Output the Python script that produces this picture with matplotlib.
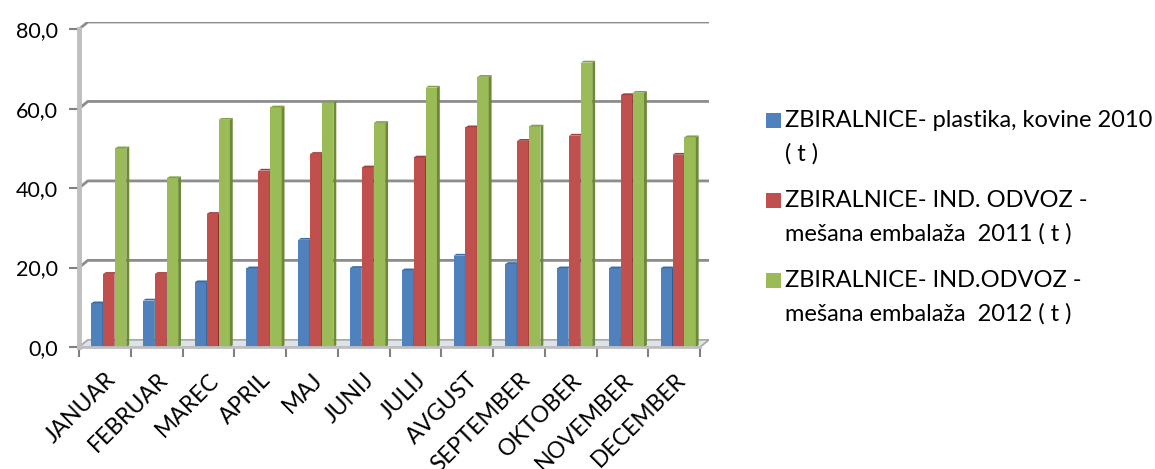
import matplotlib
matplotlib.use("Agg")
from matplotlib import pyplot as plt
from matplotlib.patches import Polygon, Rectangle
import numpy as np

plt.rcParams['font.family'] = ['Lato', 'DejaVu Sans']

# data (t)
months = ['JANUAR', 'FEBRUAR', 'MAREC', 'APRIL', 'MAJ', 'JUNIJ', 'JULIJ',
          'AVGUST', 'SEPTEMBER', 'OKTOBER', 'NOVEMBER', 'DECEMBER']
plast_2010 = [11.0, 11.7, 16.3, 19.8, 27.0, 19.9, 19.3, 23.0, 20.9, 19.8, 19.8, 19.8]
meš_2011 = [18.4, 18.4, 33.5, 44.4, 48.6, 45.2, 47.7, 55.3, 51.9, 53.2, 63.4, 48.4]
meš_2012 = [50.0, 42.5, 57.2, 60.3, 61.5, 56.4, 65.3, 68.0, 55.5, 71.6, 64.0, 52.8]

labels = ['ZBIRALNICE- plastika, kovine 2010\n( t )',
          'ZBIRALNICE- IND. ODVOZ -\nmešana embalaža  2011 ( t )',
          'ZBIRALNICE- IND.ODVOZ -\nmešana embalaža  2012 ( t )']
colors = ['#4F81BD', '#C0504D', '#9BBB59']
side_colors = ['#2E5C8F', '#8A302D', '#6B8A36']
top_colors = ['#3A6BA6', '#A33F3C', '#82A246']
series = [plast_2010, meš_2011, meš_2012]

W, H = 1155, 469
fig = plt.figure(figsize=(W / 100, H / 100), dpi=100)
ax = fig.add_axes([79 / W, 1 - 347 / H, (709 - 79) / W, (347 - 22) / H])

DX, DY = 0.17, 1.8      # depth of the 3d back wall, in data units
n = len(months)
x = np.arange(n)
ax.set_xlim(-0.5, n - 0.5 + DX)
ax.set_ylim(0, 80 + DY)

# floor and back-wall grid
floor = Polygon([(-0.5, 0), (n - 0.5, 0), (n - 0.5 + DX, DY), (-0.5 + DX, DY)],
                closed=True, facecolor='#dde3ea', edgecolor='#a6a6a6', lw=1.2, zorder=1)
ax.add_patch(floor)
for v in [20, 40, 60, 80]:
    ax.plot([-0.5, -0.5 + DX, n - 0.5 + DX], [v, v + DY, v + DY],
            color='#8c8c8c', lw=2, zorder=1, solid_capstyle='butt')

# 3d-ish bars
w = 0.22
offs = [-0.155, 0.075, 0.305]
sdx, sdy = 0.055, 0.45
for i in range(n):
    for s in range(3):
        xc = x[i] + offs[s]
        v = series[s][i]
        ax.bar(xc, v, width=w, color=colors[s], lw=0, zorder=2 + s)
        r = xc + w / 2
        l = xc - w / 2
        ax.add_patch(Polygon([(r, 0), (r + sdx, sdy), (r + sdx, v + sdy), (r, v)],
                             closed=True, facecolor=side_colors[s], lw=0, zorder=2 + s))
        ax.add_patch(Polygon([(l, v), (r, v), (r + sdx, v + sdy), (l + sdx, v + sdy)],
                             closed=True, facecolor=top_colors[s], lw=0, zorder=2 + s))

for sp in ['top', 'right']:
    ax.spines[sp].set_visible(False)
ax.spines['left'].set_bounds(0, 80)
ax.spines['left'].set_color('#bfbfbf')
ax.spines['left'].set_linewidth(3.5)
ax.spines['bottom'].set_bounds(-0.5, n - 0.5)
ax.spines['bottom'].set_color('#bfbfbf')
ax.spines['bottom'].set_linewidth(2)
ax.spines['bottom'].set_zorder(6)

ax.set_yticks([0, 20, 40, 60, 80])
ax.set_yticklabels(['0,0', '20,0', '40,0', '60,0', '80,0'], fontsize=15.5)
ax.tick_params(axis='y', length=7, width=1.5, color='#808080', pad=8)
ax.set_xticks(x)
ax.set_xticklabels(months, rotation=45, ha='right', va='top',
                   rotation_mode='anchor', fontsize=16.5)
ax.tick_params(axis='x', length=0, pad=16)
ax.set_xticks(np.arange(-0.5, n, 1), minor=True)
ax.tick_params(axis='x', which='minor', length=7, width=1.5, color='#808080')

# legend, drawn by hand so the swatch sits on the first line
for k in range(3):
    ytop = 113 + 80 * k
    fig.patches.append(Rectangle((766 / W, 1 - (ytop + 15) / H), 15 / W, 15 / H,
                                 transform=fig.transFigure, facecolor=colors[k],
                                 edgecolor='none'))
    fig.text(785 / W, 1 - (ytop - 3) / H, labels[k], fontsize=17, va='top',
             ha='left', linespacing=1.7)

fig.savefig('out.png', dpi=100)
